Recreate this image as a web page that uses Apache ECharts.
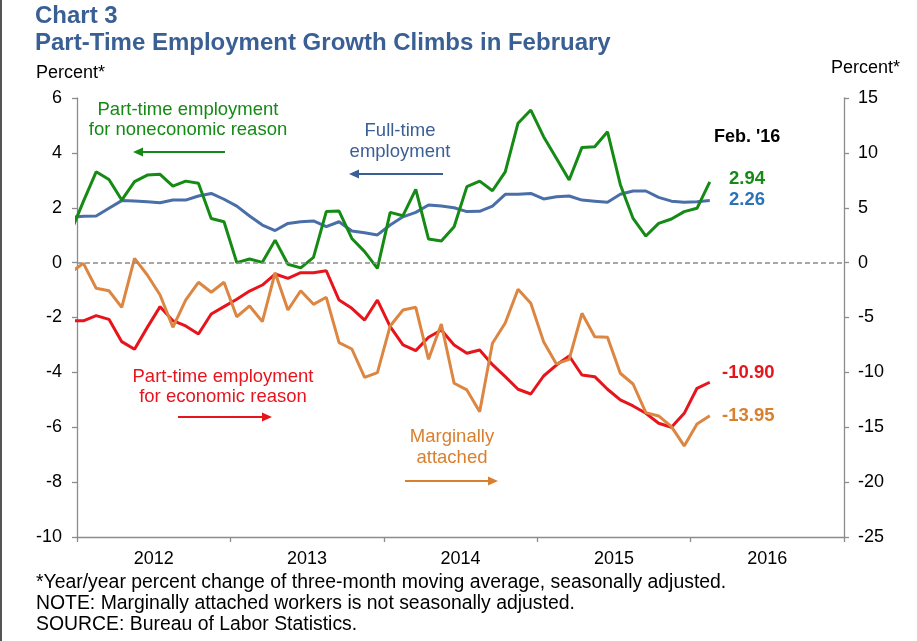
<!DOCTYPE html>
<html><head><meta charset="utf-8">
<script src="https://cdn.jsdelivr.net/npm/echarts@6/dist/echarts.min.js"></script>
<style>html,body{margin:0;padding:0;background:#fff}#c{width:917px;height:641px}</style>
</head><body><div id="c"></div>
<script>
// ---- data ----
const months = [
 '2011-12',
 '2012-01','2012-02','2012-03','2012-04','2012-05','2012-06','2012-07','2012-08','2012-09','2012-10','2012-11','2012-12',
 '2013-01','2013-02','2013-03','2013-04','2013-05','2013-06','2013-07','2013-08','2013-09','2013-10','2013-11','2013-12',
 '2014-01','2014-02','2014-03','2014-04','2014-05','2014-06','2014-07','2014-08','2014-09','2014-10','2014-11','2014-12',
 '2015-01','2015-02','2015-03','2015-04','2015-05','2015-06','2015-07','2015-08','2015-09','2015-10','2015-11','2015-12',
 '2016-01','2016-02'
];
const yearLabels = ['2012','2013','2014','2015','2016'];
// left axis (percent)
const fullTime = [
 1.65,
 1.69,1.70,1.98,2.26,2.25,2.22,2.18,2.28,2.28,2.43,2.52,2.31,
 2.06,1.70,1.37,1.17,1.43,1.49,1.52,1.31,1.49,1.15,1.09,1.01,
 1.37,1.67,1.83,2.10,2.06,2.00,1.86,1.87,2.06,2.49,2.49,2.52,
 2.32,2.40,2.43,2.28,2.24,2.20,2.49,2.61,2.61,2.38,2.24,2.20,
 2.22,2.26
];
const ptNoneconomic = [
 1.10,
 2.23,3.31,3.03,2.28,2.95,3.19,3.22,2.79,2.97,2.89,1.61,1.49,
 0.00,0.13,0.01,0.82,-0.06,-0.19,0.19,1.86,1.88,0.88,0.40,-0.21,
 1.83,1.71,2.67,0.86,0.79,1.31,2.77,2.97,2.62,3.31,5.08,5.56,
 4.59,3.80,3.01,4.20,4.22,4.77,2.85,1.61,0.97,1.43,1.59,1.86,
 1.98,2.94
];
// right axis (percent)
const ptEconomic = [
 -5.3,
 -5.3,-4.83,-5.17,-7.2,-7.9,-5.9,-4.01,-5.29,-5.77,-6.5,-4.68,-4.01,
 -3.34,-2.59,-2.04,-1.04,-1.43,-0.92,-0.92,-0.74,-3.41,-4.16,-5.23,-3.41,
 -5.84,-7.5,-8.02,-6.8,-6.14,-7.5,-8.26,-7.96,-9.3,-10.39,-11.54,-11.97,
 -10.33,-9.33,-8.51,-10.24,-10.39,-11.54,-12.51,-13.06,-13.73,-14.64,-15.0,-13.73,
 -11.45,-10.90
];
const marginallyAttached = [
 -0.9,
 -0.07,-2.34,-2.56,-4.07,0.39,-1.13,-2.95,-5.89,-3.41,-1.79,-2.7,-1.79,
 -4.93,-3.95,-5.38,-0.92,-4.32,-2.56,-3.8,-3.16,-7.29,-7.87,-10.45,-10.03,
 -5.77,-4.32,-4.07,-8.81,-5.59,-10.99,-11.6,-13.58,-7.35,-5.5,-2.43,-3.71,
 -7.2,-9.23,-8.81,-4.62,-6.75,-6.8,-10.08,-11.06,-13.67,-13.97,-14.94,-16.7,
 -14.7,-13.95
];
const lastLabels = {fullTime:'2.26', ptNoneconomic:'2.94', ptEconomic:'-10.90', marginallyAttached:'-13.95'};

// ---- helpers ----
function monthPos(s){const p=s.split('-').map(Number);return (p[0]-2012)*12+(p[1]-1)+0.5;}
function pairs(vals){return months.map((m,i)=>[monthPos(m),vals[i]]);}
const yearTicks = yearLabels.map((y,i)=>i*12).concat([yearLabels.length*12]);
const yearMids = yearLabels.map((y,i)=>i*12+6);

const FONT = '"Liberation Sans", Arial, sans-serif';
const C_GREEN='#158a15', C_BLUE='#4a6fa8', C_RED='#e8141c', C_ORANGE='#dc8642';
const C_TITLE='#3a5f95';

function arrow(x1,x2,y,color){
  const dir = x2>x1?1:-1, L=10, W=4.5;
  return {type:'group',children:[
    {type:'line',shape:{x1:x1,y1:y,x2:x2-dir*L+dir*1,y2:y},style:{stroke:color,lineWidth:2}},
    {type:'polygon',shape:{points:[[x2,y],[x2-dir*L,y-W],[x2-dir*L,y+W]]},style:{fill:color}}
  ]};
}
function txt(x,y,text,color,opts){
  return Object.assign({type:'text',x:x,y:y,style:Object.assign({text:text,fill:color,font:'18.5px '+FONT,
    textAlign:'left',textVerticalAlign:'middle'},opts||{})});
}

const chart = echarts.init(document.getElementById('c'));
const axisLineStyle = {color:'#8c8c8c',width:1.3};
chart.setOption({
  animation:false,
  backgroundColor:'#fff',
  textStyle:{fontFamily:FONT},
  grid:{left:77,right:73,top:98,bottom:104,containLabel:false},
  xAxis:{type:'value',min:0,max:60,
    axisLine:{show:true,lineStyle:axisLineStyle,onZero:false},
    axisTick:{show:true,length:5,lineStyle:axisLineStyle,customValues:yearTicks},
    axisLabel:{show:true,customValues:yearMids,fontSize:18,color:'#000',margin:13,fontFamily:FONT,
      formatter:v=>yearLabels[Math.round((v-6)/12)]},
    splitLine:{show:false}},
  yAxis:[
    {type:'value',min:-10,max:6,interval:2,position:'left',
     axisLine:{show:true,lineStyle:axisLineStyle},axisTick:{show:true,length:5,lineStyle:axisLineStyle},
     axisLabel:{fontSize:18,color:'#000',margin:15,fontFamily:FONT},splitLine:{show:false}},
    {type:'value',min:-25,max:15,interval:5,position:'right',
     axisLine:{show:true,lineStyle:axisLineStyle},axisTick:{show:true,length:5,lineStyle:axisLineStyle},
     axisLabel:{fontSize:18,color:'#000',margin:14,fontFamily:FONT},splitLine:{show:false}}
  ],
  series:[
    {name:'Full-time employment',type:'line',yAxisIndex:0,data:pairs(fullTime),showSymbol:false,symbol:'none',
     lineStyle:{color:C_BLUE,width:3},z:2,clip:true,
     markLine:{silent:true,symbol:'none',label:{show:false},
       lineStyle:{color:'#8a8a8a',type:[5,3],width:1.5},data:[{yAxis:0}]}},
    {name:'Part-time noneconomic',type:'line',yAxisIndex:0,data:pairs(ptNoneconomic),symbol:'none',
     lineStyle:{color:C_GREEN,width:3},z:3,clip:true},
    {name:'Part-time economic',type:'line',yAxisIndex:1,data:pairs(ptEconomic),symbol:'none',
     lineStyle:{color:C_RED,width:3},z:3,clip:true},
    {name:'Marginally attached',type:'line',yAxisIndex:1,data:pairs(marginallyAttached),symbol:'none',
     lineStyle:{color:C_ORANGE,width:3},z:4,clip:true}
  ],
  graphic:[
    {type:'rect',shape:{x:0,y:0,width:2,height:641},style:{fill:'#555'}},
    txt(35,16,'Chart 3',C_TITLE,{font:'bold 24px '+FONT}),
    txt(35,43,'Part-Time Employment Growth Climbs in February',C_TITLE,{font:'bold 24px '+FONT}),
    txt(36,73,'Percent*','#000',{font:'18px '+FONT}),
    txt(900,68,'Percent*','#000',{font:'18px '+FONT,textAlign:'right'}),
    txt(188,120,'Part-time employment\nfor noneconomic reason',C_GREEN,{textAlign:'center',lineHeight:20.5}),
    arrow(225,133,152,C_GREEN),
    txt(400,141,'Full-time\nemployment',C_TITLE,{textAlign:'center',lineHeight:21}),
    arrow(443,349,174,C_TITLE),
    txt(223,387,'Part-time employment\nfor economic reason',C_RED,{textAlign:'center',lineHeight:20.5}),
    arrow(178,272,417,C_RED),
    txt(452,447,'Marginally\nattached','#d9802f',{textAlign:'center',lineHeight:21}),
    arrow(405,498,481,'#d9802f'),
    txt(714,137,"Feb. '16",'#000',{font:'bold 18px '+FONT}),
    txt(729,179,lastLabels.ptNoneconomic,C_GREEN,{font:'bold 18.5px '+FONT}),
    txt(729,200,lastLabels.fullTime,'#2a73b8',{font:'bold 18.5px '+FONT}),
    txt(722,373,lastLabels.ptEconomic,C_RED,{font:'bold 18.5px '+FONT}),
    txt(722,416,lastLabels.marginallyAttached,'#d9802f',{font:'bold 18.5px '+FONT}),
    txt(36,583,'*Year/year percent change of three-month moving average, seasonally adjusted.','#000',{font:'19.4px '+FONT}),
    txt(36,604,'NOTE: Marginally attached workers is not seasonally adjusted.','#000',{font:'19.4px '+FONT}),
    txt(36,625,'SOURCE: Bureau of Labor Statistics.','#000',{font:'19.4px '+FONT})
  ]
});
</script></body></html>
